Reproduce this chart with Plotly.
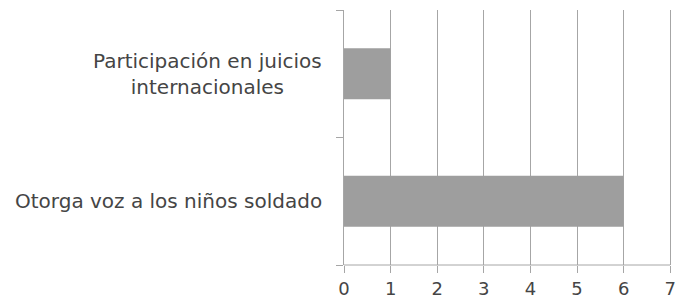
import plotly.graph_objects as go

categories = ["Otorga voz a los niños soldado", "Participación en juicios<br>internacionales"]
values = [6, 1]
x_ticks = [0, 1, 2, 3, 4, 5, 6, 7]

FONT = "'DejaVu Sans', sans-serif"
TXT = "#454545"
GRID = "#a6a6a6"

fig = go.Figure()
fig.add_trace(go.Bar(
    y=categories, x=values, orientation="h",
    marker=dict(color="#9e9e9e", line=dict(width=0)),
    hoverinfo="skip",
))

for c in categories:
    fig.add_annotation(
        x=0, y=c, xref="paper", yref="y", xanchor="right", yanchor="middle",
        xshift=-20, align="center", text=c, showarrow=False,
        font=dict(family=FONT, size=20, color=TXT),
    )

fig.update_layout(
    width=675, height=302,
    margin=dict(l=344, r=2, t=10, b=37, autoexpand=False),
    paper_bgcolor="white", plot_bgcolor="white",
    bargap=0.6, showlegend=False,
    font=dict(family=FONT, size=18, color=TXT),
)
fig.update_xaxes(
    range=[0, 7.06], tickvals=x_ticks, ticktext=[str(v) for v in x_ticks],
    showgrid=True, gridcolor=GRID, gridwidth=1,
    showline=False,
    ticks="outside", ticklen=7, tickcolor=GRID, automargin=False,
    ticklabeloverflow="allow",
    zeroline=False, tickfont=dict(family=FONT, size=18, color=TXT),
)
fig.update_yaxes(
    type="category", categoryorder="array", categoryarray=categories,
    showticklabels=False, showgrid=False, automargin=False,
    showline=True, linecolor=GRID, linewidth=1,
    ticks="outside", ticklen=7, tickcolor=GRID, tickson="boundaries",
)
# x axis baseline spanning 0..7 only (as in the reference)
fig.add_shape(type="line", xref="x", yref="paper", x0=x_ticks[0], x1=x_ticks[-1],
              y0=0, y1=0, line=dict(color=GRID, width=1))

fig.write_html(
    "out.html",
    config={"displayModeBar": False},
    post_script="document.body.style.margin='0';document.body.style.overflow='hidden';",
)
